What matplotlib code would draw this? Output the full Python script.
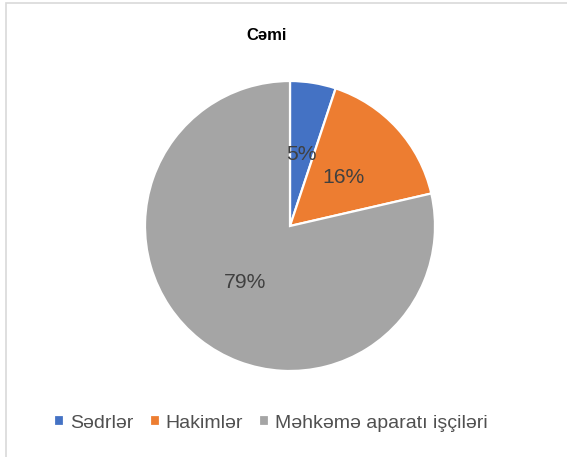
import matplotlib.pyplot as plt
from matplotlib.patches import Rectangle

plt.rcParams['font.family'] = ['Liberation Sans', 'DejaVu Sans']

title = 'Cəmi'
labels = ['Sədrlər', 'Hakimlər', 'Məhkəmə aparatı işçiləri']
values = [5.1, 16.3, 78.6]
colors = ['#4472C4', '#ED7D31', '#A5A5A5']

W, H = 567, 457
fig = plt.figure(figsize=(W / 100, H / 100), dpi=100)

# chart area border (partly cropped in the original)
fig.add_artist(Rectangle((6 / W, -0.1), 1.2, (H - 3) / H + 0.1, transform=fig.transFigure,
                         fill=False, edgecolor='#d9d9d9', linewidth=1.2))

# pie centre (290, 226) px, radius 145 px
cx, cy, r = 290, 226, 145
ax = fig.add_axes([(cx - r) / W, (H - cy - r) / H, 2 * r / W, 2 * r / H])
wedges, texts, autotexts = ax.pie(values, colors=colors, startangle=90, counterclock=False,
                                  autopct='%.0f%%', pctdistance=0.5, radius=1,
                                  wedgeprops=dict(edgecolor='white', linewidth=1.6),
                                  textprops=dict(color='#404040', fontsize=15.2))
ax.set_xlim(-1, 1)
ax.set_ylim(-1, 1)
ax.set_aspect('equal')
ax.axis('off')

fig.text(267 / W, 1 - 35 / H, title, ha='center', va='center', fontsize=12,
         fontweight='bold', color='black')

fig.legend(wedges, labels, loc='center', bbox_to_anchor=(271 / W, 1 - 423 / H), ncol=3,
           frameon=False, fontsize=14, labelcolor='#505050', handlelength=0.5,
           handleheight=0.5, handletextpad=0.3, columnspacing=0.85, borderpad=0)

fig.savefig('out.png', dpi=100)
